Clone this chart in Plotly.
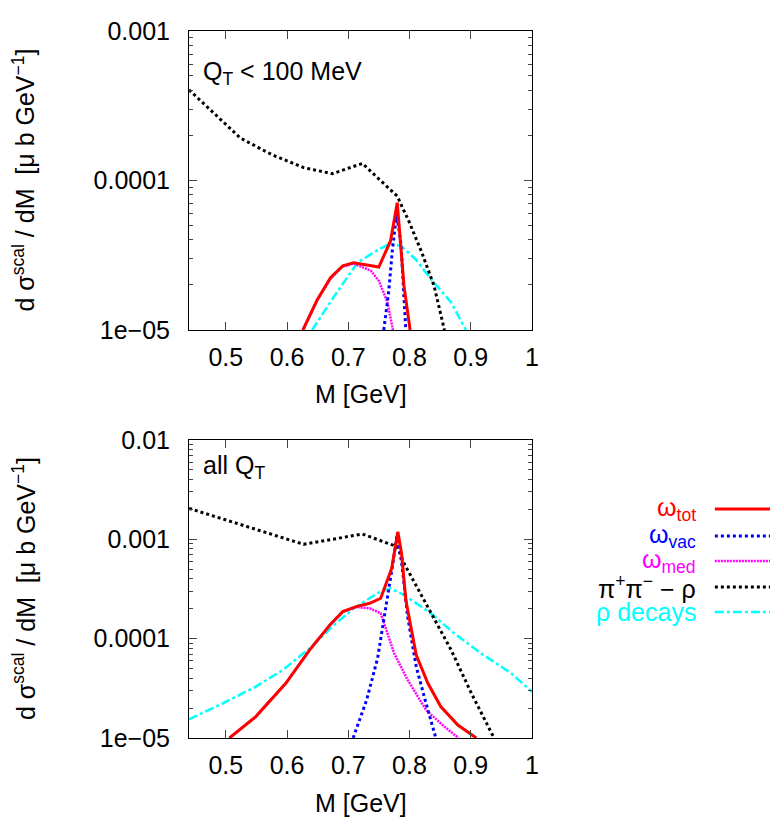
import plotly.graph_objects as go

# ---- top panel: Q_T < 100 MeV ----
m_tot_top = [0.626, 0.649, 0.671, 0.691, 0.709, 0.750, 0.769, 0.780, 0.791, 0.801]
tot_top = [1.0e-5, 1.58e-5, 2.24e-5, 2.69e-5, 2.82e-5, 2.64e-5, 3.94e-5, 7.1e-5, 1.97e-5, 1.0e-5]

m_vac_top = [0.758, 0.766, 0.772, 0.779, 0.786, 0.790, 0.794]
vac_top = [1.0e-5, 1.8e-5, 3.4e-5, 6.0e-5, 3.8e-5, 1.8e-5, 1.0e-5]

m_med_top = [0.626, 0.649, 0.671, 0.691, 0.709, 0.737, 0.750, 0.764, 0.773]
med_top = [1.0e-5, 1.58e-5, 2.2e-5, 2.65e-5, 2.78e-5, 2.49e-5, 2.13e-5, 1.53e-5, 1.0e-5]

m_pipi_top = [0.44, 0.524, 0.575, 0.627, 0.674, 0.723, 0.780, 0.800, 0.820, 0.840, 0.857]
pipi_top = [4.04e-4, 1.92e-4, 1.49e-4, 1.22e-4, 1.11e-4, 1.30e-4, 7.85e-5, 5.22e-5, 3.3e-5, 1.98e-5, 1.0e-5]

m_rho_top = [0.641, 0.677, 0.715, 0.750, 0.769, 0.786, 0.810, 0.835, 0.868, 0.892]
rho_top = [1.0e-5, 1.68e-5, 2.82e-5, 3.47e-5, 3.79e-5, 3.65e-5, 2.97e-5, 2.19e-5, 1.53e-5, 1.0e-5]

# ---- bottom panel: all Q_T ----
m_tot_bot = [0.506, 0.549, 0.598, 0.637, 0.670, 0.691, 0.713, 0.735, 0.753, 0.771, 0.781,
             0.787, 0.794, 0.811, 0.830, 0.851, 0.879, 0.909]
tot_bot = [1.0e-5, 1.64e-5, 3.55e-5, 7.7e-5, 1.37e-4, 1.87e-4, 2.1e-4, 2.27e-4, 2.55e-4, 5.1e-4, 1.19e-3,
           7.2e-4, 2.45e-4, 6.84e-5, 3.55e-5, 2.07e-5, 1.35e-5, 1.0e-5]

m_vac_bot = [0.708, 0.730, 0.748, 0.761, 0.772, 0.780, 0.788, 0.797, 0.811, 0.827, 0.843]
vac_bot = [1.0e-5, 2.41e-5, 6.4e-5, 1.95e-4, 5.3e-4, 1.15e-3, 5.3e-4, 1.66e-4, 5.22e-5, 2.23e-5, 1.0e-5]

m_med_bot = [0.506, 0.549, 0.598, 0.637, 0.670, 0.691, 0.713, 0.735, 0.753, 0.775, 0.797,
             0.827, 0.857, 0.880]
med_bot = [1.0e-5, 1.64e-5, 3.55e-5, 7.7e-5, 1.37e-4, 1.87e-4, 2.08e-4, 2.02e-4, 1.8e-4, 7.1e-5, 3.84e-5,
           1.91e-5, 1.3e-5, 1.0e-5]

m_pipi_bot = [0.44, 0.627, 0.723, 0.780, 0.791, 0.835, 0.868, 0.901, 0.938]
pipi_bot = [2.05e-3, 8.9e-4, 1.13e-3, 8.43e-4, 5.74e-4, 1.8e-4, 7.7e-5, 2.82e-5, 1.0e-5]

m_rho_bot = [0.44, 0.495, 0.549, 0.593, 0.637, 0.680, 0.713, 0.752, 0.769, 0.791, 0.835,
             0.873, 0.917, 0.966, 1.0]
rho_bot = [1.54e-5, 2.23e-5, 3.29e-5, 4.83e-5, 8.0e-5, 1.43e-4, 2.1e-4, 2.97e-4, 3.21e-4, 2.75e-4, 1.8e-4,
           1.13e-4, 7.1e-5, 4.48e-5, 2.92e-5]

x_ticks = [0.5, 0.6, 0.7, 0.8, 0.9, 1.0]
x_ticktext = ["0.5", "0.6", "0.7", "0.8", "0.9", "1"]
y_ticks_top = [1e-5, 1e-4, 1e-3]
y_ticktext_top = ["1e\u221205", "0.0001", "0.001"]
y_ticks_bot = [1e-5, 1e-4, 1e-3, 1e-2]
y_ticktext_bot = ["1e\u221205", "0.0001", "0.001", "0.01"]

names = ["\u03c9<sub>tot</sub>", "\u03c9<sub>vac</sub>", "\u03c9<sub>med</sub>",
         "\u03c0<sup>+</sup>\u03c0<sup>\u2212</sup> \u2212 \u03c1", "\u03c1 decays"]
colors = ["#ff0000", "#0000ff", "#ff00ff", "#000000", "#00ffff"]
widths = [3, 3, 2.5, 3, 2.5]
dashes = ["solid", "3px,3px", "2px,1px", "3px,3px", "9px,3px,3px,3px"]

FONT = "Liberation Sans, Arial, Helvetica, sans-serif"
FS = 25
YTITLE = "d \u03c3<sup>scal</sup> / dM  [\u03bc b GeV<sup>\u22121</sup>]"

# the page body adds an 8px margin, so the figure is 8px smaller than the window
W, H = 770, 809

fig = go.Figure()

top = [(m_tot_top, tot_top), (m_vac_top, vac_top), (m_med_top, med_top),
       (m_pipi_top, pipi_top), (m_rho_top, rho_top)]
bot = [(m_tot_bot, tot_bot), (m_vac_bot, vac_bot), (m_med_bot, med_bot),
       (m_pipi_bot, pipi_bot), (m_rho_bot, rho_bot)]

# draw in reverse so the red total sits on top
order = [4, 3, 2, 1, 0]
for i in order:
    x, y = top[i]
    fig.add_trace(go.Scatter(x=x, y=y, mode="lines", xaxis="x", yaxis="y", showlegend=False,
                             line=dict(color=colors[i], width=widths[i], dash=dashes[i])))
for i in order:
    x, y = bot[i]
    fig.add_trace(go.Scatter(x=x, y=y, mode="lines", xaxis="x2", yaxis="y2", showlegend=False,
                             line=dict(color=colors[i], width=widths[i], dash=dashes[i])))


def minor_vals(lo, hi):
    vals = []
    d = lo
    while d < hi:
        vals += [k * d for k in range(2, 10)]
        d *= 10
    return vals


xcommon = dict(range=[0.44, 1.0], tickvals=x_ticks, ticktext=x_ticktext, ticks="inside", ticklen=8,
               showline=True, linecolor="black", linewidth=1, mirror="ticks", showgrid=False,
               zeroline=False, automargin=False, ticklabelstandoff=5,
               tickfont=dict(size=FS, color="black"))
ycommon = dict(type="log", ticks="inside", ticklen=8, showline=True, linecolor="black", linewidth=1,
               mirror="ticks", showgrid=False, zeroline=False, automargin=False, ticklabelstandoff=13,
               tickfont=dict(size=FS, color="black"))

fig.update_layout(
    template="none",
    width=W, height=H,
    margin=dict(l=0, r=0, t=0, b=0),
    paper_bgcolor="white", plot_bgcolor="white",
    font=dict(family=FONT, size=FS, color="black"),
    xaxis=dict(domain=[0.2351, 0.6805], anchor="y", **xcommon),
    yaxis=dict(domain=[0.6020, 0.9716], anchor="x", range=[-5, -3], tickvals=y_ticks_top,
               ticktext=y_ticktext_top,
               minor=dict(tickvals=minor_vals(1e-5, 1e-3), ticks="inside", ticklen=4, showgrid=False),
               **ycommon),
    xaxis2=dict(domain=[0.2351, 0.6805], anchor="y2", **xcommon),
    yaxis2=dict(domain=[0.0977, 0.4660], anchor="x2", range=[-5, -2], tickvals=y_ticks_bot,
                ticktext=y_ticktext_bot,
                minor=dict(tickvals=minor_vals(1e-5, 1e-2), ticks="inside", ticklen=4, showgrid=False),
                **ycommon),
)

# axis titles
for xa, ya, ty in [("x", "y", -0.214), ("x2", "y2", -0.218)]:
    fig.add_annotation(text="M [GeV]", xref=xa + " domain", yref=ya + " domain", x=0.5, y=ty,
                       xanchor="center", yanchor="middle", showarrow=False, font=dict(size=FS))
    fig.add_annotation(text=YTITLE, xref="paper", yref=ya + " domain", x=0.0208, y=0.5,
                       xanchor="center", yanchor="middle", textangle=-90, showarrow=False,
                       font=dict(size=FS))

# panel labels
fig.add_annotation(text="Q<sub>T</sub> &lt; 100 MeV", xref="x domain", yref="y domain", x=0.035, y=0.86,
                   xanchor="left", yanchor="middle", showarrow=False, font=dict(size=FS))
fig.add_annotation(text="all Q<sub>T</sub>", xref="x2 domain", yref="y2 domain", x=0.035, y=0.91,
                   xanchor="left", yanchor="middle", showarrow=False, font=dict(size=FS))

# gnuplot-style key: coloured text right-aligned, line sample to the right
key_y = [0.3807, 0.3473, 0.3164, 0.2843, 0.2534]
for i in range(5):
    fig.add_annotation(text=names[i], xref="paper", yref="paper", x=0.896, y=key_y[i],
                       xanchor="right", yanchor="middle", showarrow=False,
                       font=dict(size=FS, color=colors[i]))
    fig.add_shape(type="line", xref="paper", yref="paper", x0=0.918, x1=1.0, y0=key_y[i], y1=key_y[i],
                  line=dict(color=colors[i], width=widths[i], dash=dashes[i]))

fig.write_html("out.html")
